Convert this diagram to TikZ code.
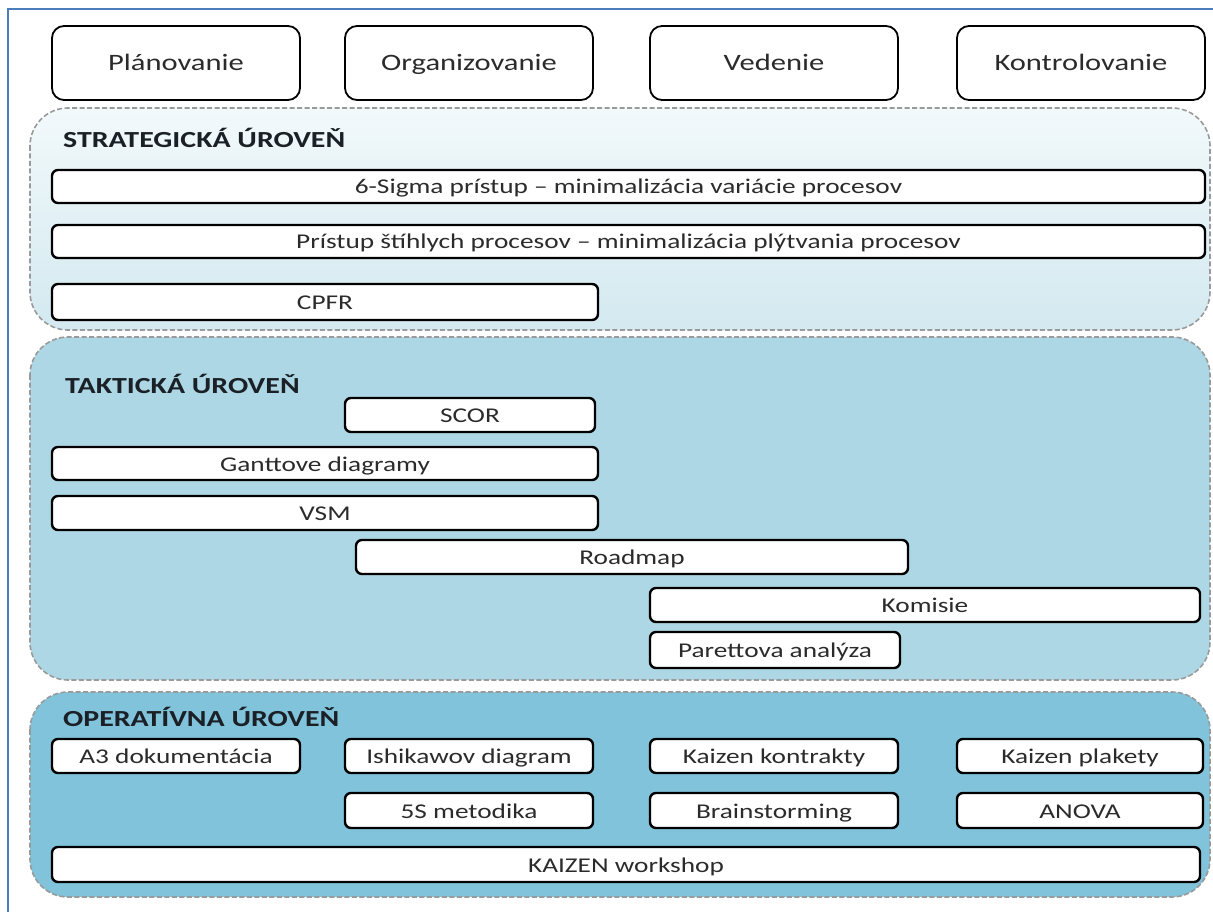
\documentclass[tikz,border=0pt]{standalone}
\usepackage{fontspec}
\setmainfont{Carlito}[FakeStretch=1.3]
\definecolor{frameblue}{HTML}{4A7EBB}
\definecolor{stratTop}{HTML}{F2F9FB}
\definecolor{stratBot}{HTML}{D3E9F0}
\definecolor{taktFill}{HTML}{ADD7E4}
\definecolor{operFill}{HTML}{80C3DA}
\definecolor{dashgray}{HTML}{9A9A9A}
\definecolor{boxtext}{HTML}{2B2B2B}
\definecolor{titletext}{HTML}{1B2026}
\tikzset{
  hbox/.style={draw=black, line width=1.8pt, fill=white, rounded corners=12pt, inner sep=0pt,
    text=boxtext, font=\fontsize{23.5}{26}\selectfont, text height=19pt, text depth=4pt},
  mbox/.style={draw=black, line width=2.4pt, fill=white, rounded corners=6pt, inner sep=0pt,
    text=boxtext, font=\fontsize{21}{24}\selectfont, text height=18pt, text depth=3pt},
  panel/.style={draw=dashgray, line width=1.6pt, dash pattern=on 5pt off 2.5pt, rounded corners=38pt},
  ptitle/.style={anchor=west, inner sep=0pt, text=titletext, font=\bfseries\fontsize{23}{25}\selectfont},
}
\newcommand\hb[6]{\node[hbox, minimum width={(#4-#2)*1pt}, minimum height={(#5-#3)*1pt}] (#1) at ({(#2+#4)/2},{(#3+#5)/2}) {#6};}
\newcommand\bx[6]{\node[mbox, minimum width={(#4-#2)*1pt}, minimum height={(#5-#3)*1pt}] (#1) at ({(#2+#4)/2},{(#3+#5)/2}) {#6};}
\begin{document}
\begin{tikzpicture}[x=1pt,y=-1pt]
\useasboundingbox[fill=white] (0,0) rectangle (1213,912);
\draw[frameblue, line width=2pt] (8,912) -- (8,9) -- (1213,9);
% header
\hb{plan}{52}{26}{300}{100}{Plánovanie}
\hb{org}{345}{26}{593}{100}{Organizovanie}
\hb{ved}{650}{26}{898}{100}{Vedenie}
\hb{kon}{957}{26}{1205}{100}{Kontrolovanie}
% panels
\path[panel, top color=stratTop, bottom color=stratBot] (30,108) rectangle (1210,330);
\path[panel, fill=taktFill] (30,337) rectangle (1210,680);
\path[panel, fill=operFill] (30,692) rectangle (1210,897);
\node[ptitle] (ts) at (63,138) {STRATEGICKÁ ÚROVEŇ};
\node[ptitle] (tt) at (65,384) {TAKTICKÁ ÚROVEŇ};
\node[ptitle] (to) at (63,717) {OPERATÍVNA ÚROVEŇ};
% strategic
\bx{sig}{52}{170}{1205}{203}{6-Sigma prístup – minimalizácia variácie procesov}
\bx{lean}{52}{225}{1205}{258}{Prístup štíhlych procesov – minimalizácia plýtvania procesov}
\bx{cpfr}{52}{284}{598}{320}{CPFR}
% tactical
\bx{scor}{345}{398}{595}{432}{SCOR}
\bx{gantt}{52}{447}{598}{480}{Ganttove diagramy}
\bx{vsm}{52}{496}{598}{530}{VSM}
\bx{road}{356}{540}{908}{574}{Roadmap}
\bx{kom}{650}{588}{1200}{622}{Komisie}
\bx{par}{650}{632}{900}{668}{Parettova analýza}
% operative
\bx{a3}{52}{739}{300}{773}{A3 dokumentácia}
\bx{ish}{345}{739}{593}{773}{Ishikawov diagram}
\bx{kk}{650}{739}{898}{773}{Kaizen kontrakty}
\bx{kp}{957}{739}{1203}{773}{Kaizen plakety}
\bx{fs}{345}{793}{593}{828}{5S metodika}
\bx{brain}{650}{793}{898}{828}{Brainstorming}
\bx{anova}{957}{793}{1203}{828}{ANOVA}
\bx{kw}{52}{847}{1200}{882}{KAIZEN workshop}
\end{tikzpicture}
\end{document}
